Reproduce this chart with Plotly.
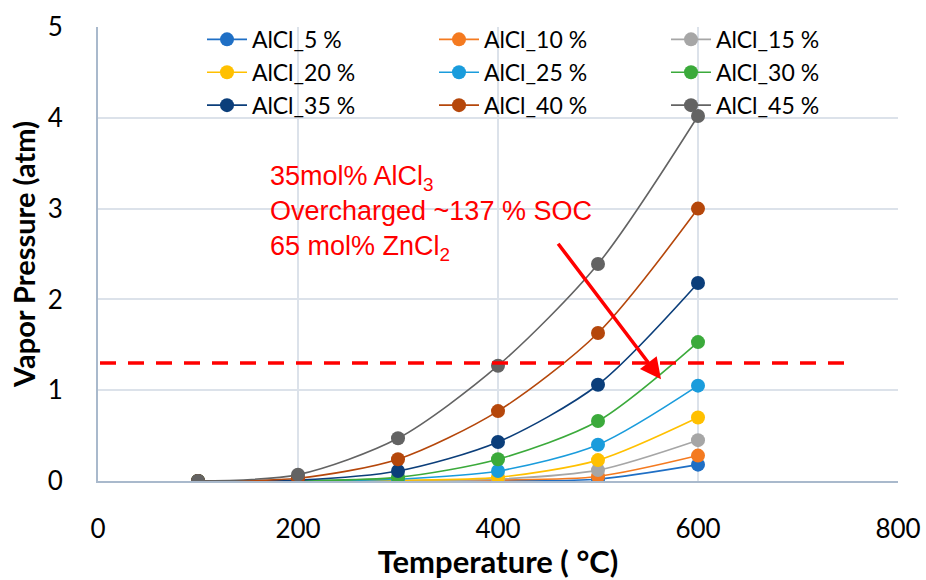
import plotly.graph_objects as go

# Temperatures (°C) and vapor pressure (atm) for each AlCl3 content
temperature = [100, 200, 300, 400, 500, 600]

series_names = ["AlCl_5 %", "AlCl_10 %", "AlCl_15 %",
                "AlCl_20 %", "AlCl_25 %", "AlCl_30 %",
                "AlCl_35 %", "AlCl_40 %", "AlCl_45 %"]

p_5 = [0.0, 0.0, 0.0, 0.005, 0.02, 0.18]
p_10 = [0.0, 0.0, 0.002, 0.01, 0.05, 0.28]
p_15 = [0.0, 0.0, 0.004, 0.02, 0.12, 0.45]
p_20 = [0.0, 0.0, 0.008, 0.04, 0.23, 0.70]
p_25 = [0.0, 0.002, 0.02, 0.11, 0.40, 1.05]
p_30 = [0.0, 0.005, 0.04, 0.24, 0.66, 1.53]
p_35 = [0.0, 0.01, 0.11, 0.43, 1.06, 2.18]
p_40 = [0.0, 0.03, 0.24, 0.77, 1.63, 3.00]
p_45 = [0.0, 0.07, 0.47, 1.27, 2.39, 4.02]

pressures = [p_5, p_10, p_15, p_20, p_25, p_30, p_35, p_40, p_45]

colors = ["#1F6FC5", "#F47A20", "#A6A6A6",
          "#FFC000", "#1A9CDC", "#3BAA3B",
          "#0B3E7A", "#B5470B", "#636363"]

# Reference vapor-pressure limit
limit_x = [2, 746]
limit_y = [1.3, 1.3]

# Arrow pointing toward the 35 mol% curve
arrow_start = (459, 2.63)
arrow_end = (563, 1.12)

fig = go.Figure()

for name, vals, col in zip(series_names, pressures, colors):
    fig.add_trace(go.Scatter(
        x=temperature, y=vals, name=name, mode="lines+markers",
        line=dict(color=col, width=1.6, shape="spline", smoothing=0.8),
        marker=dict(color=col, size=14, line=dict(width=0)),
    ))

fig.add_trace(go.Scatter(
    x=limit_x, y=limit_y, mode="lines", showlegend=False,
    line=dict(color="#FF0000", width=3.5, dash="16px,12px"),
    hoverinfo="skip",
))

fig.add_annotation(
    x=arrow_end[0], y=arrow_end[1], ax=arrow_start[0], ay=arrow_start[1],
    xref="x", yref="y", axref="x", ayref="y",
    text="", showarrow=True, arrowhead=2, arrowsize=1.2, arrowwidth=3.5,
    arrowcolor="#FF0000",
)

note_text = ("35mol% AlCl<sub>3</sub><br>"
             "Overcharged ~137 % SOC<br>"
             "65 mol% ZnCl<sub>2</sub>")
fig.add_annotation(
    x=170, y=2.95, xref="x", yref="y", text=note_text, showarrow=False,
    xanchor="left", yanchor="middle", align="left",
    font=dict(family="Liberation Sans, Arial", size=27, color="#FF0000"),
)

axis_line = "#A9B9CC"
grid = "#DCE2EA"
font_family = "Lato, Open Sans"

fig.update_xaxes(
    range=[0, 800], tickvals=[0, 200, 400, 600, 800],
    showgrid=True, gridcolor=grid, gridwidth=1.5,
    showline=True, linecolor=axis_line, linewidth=2,
    zeroline=False, ticks="", ticklabelstandoff=24, automargin=False,
    tickfont=dict(family=font_family, size=26, color="#000000"),
    title=dict(text="<b>Temperature ( °C)</b>", standoff=17,
               font=dict(family=font_family, size=31, color="#000000")),
)
fig.update_yaxes(
    range=[0, 5], tickvals=[0, 1, 2, 3, 4, 5],
    showgrid=True, gridcolor=grid, gridwidth=1.5,
    showline=True, linecolor=axis_line, linewidth=2,
    zeroline=False, ticks="", ticklabelstandoff=28, automargin=False,
    tickfont=dict(family=font_family, size=26, color="#000000"),
    title=dict(text="<b>Vapor Pressure (atm)</b>", standoff=4,
               font=dict(family=font_family, size=29, color="#000000")),
)

fig.update_layout(
    width=926, height=580,
    margin=dict(l=98, r=28, t=27, b=99),
    plot_bgcolor="white", paper_bgcolor="white",
    legend=dict(
        orientation="h", x=0.13, y=1.02, xanchor="left", yanchor="top",
        entrywidth=177, entrywidthmode="pixels",
        bgcolor="rgba(0,0,0,0)", tracegroupgap=0, itemwidth=40,
        font=dict(family=font_family, size=23, color="#000000"),
    ),
)

fig.write_html("out.html")
